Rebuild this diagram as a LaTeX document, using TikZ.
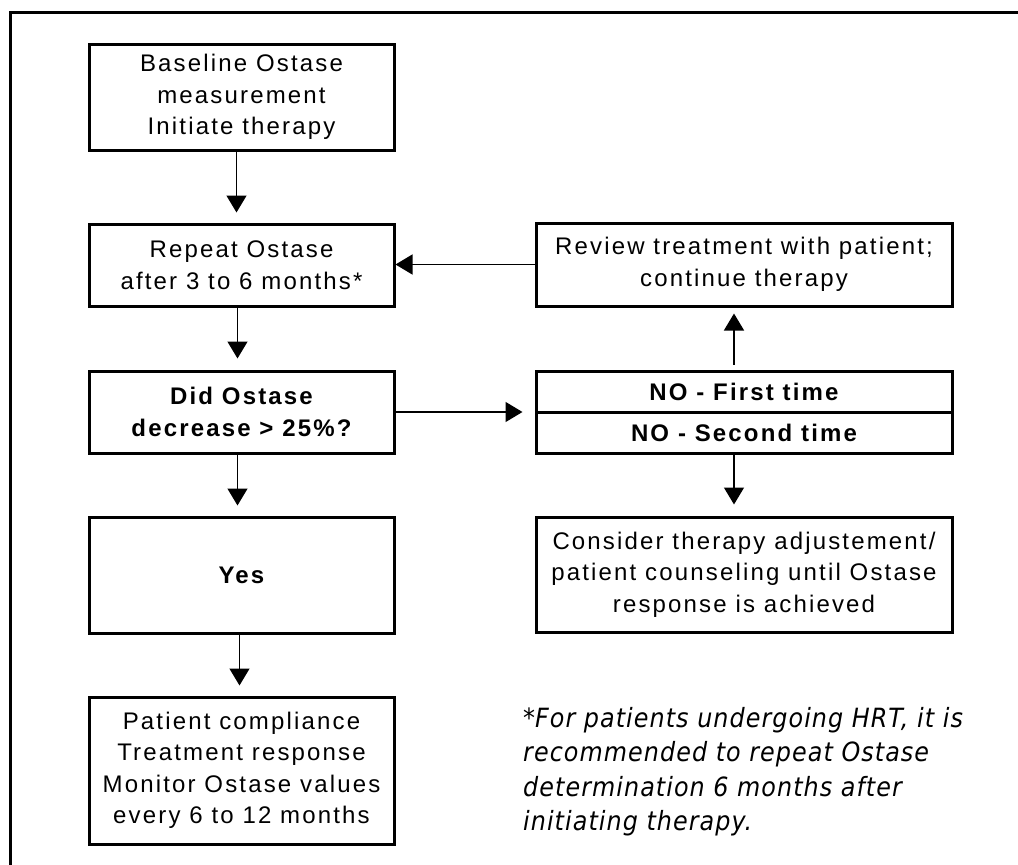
\documentclass[tikz,border=0pt]{standalone}
\usepackage{fontspec}
\setmainfont{Liberation Sans}[LetterSpace=9]
\newfontfamily\ostaseNoteFont{DejaVu Sans Condensed}[LetterSpace=4]
\usetikzlibrary{arrows.meta}

\tikzset{ostaseFlowBox/.style={
    font=\fontsize{24}{31.5}\selectfont,
    line width=3pt,
    draw=black,
    align=center,
    inner sep=0pt,
    minimum width=305pt,
  }
}
\tikzset{ostaseFlowWideBox/.style={
    ostaseFlowBox,
    minimum width=416pt,
  }
}
\tikzset{ostaseFlowBold/.style={
    font=\fontsize{24}{31.5}\selectfont\bfseries,
  }
}
\tikzset{ostaseFlowArrow/.style={
    -{Triangle[length=17pt,width=20pt]},
    line width=1.4pt,
    black,
  }
}
\newcommand{\ostaseFlowDrawNodes}{
  \node [ostaseFlowBox, minimum height=106pt] (baseline)
  at (241.5, 97) {Baseline Ostase\\measurement\\Initiate therapy};
  \node [ostaseFlowBox, minimum height=82pt] (repeat)
  at (241.5, 265) {Repeat Ostase\\after 3 to 6 months*};
  \node [ostaseFlowBox, ostaseFlowBold, minimum height=82pt] (decide)
  at (241.5, 412) {Did Ostase\\decrease > 25\%?};
  \node [ostaseFlowBox, ostaseFlowBold, minimum height=116pt] (yes)
  at (241.5, 575) {Yes};
  \node [ostaseFlowBox, minimum height=147pt] (monitor)
  at (241.5, 770.5) {Patient compliance\\Treatment response\\Monitor Ostase values\\every 6 to 12 months};
  \node [ostaseFlowWideBox, minimum height=83pt] (review)
  at (744, 264.5) {Review treatment with patient;\\continue therapy};
  \node [ostaseFlowWideBox, ostaseFlowBold, minimum height=41pt] (nofirst)
  at (744, 391.5) {NO - First time};
  \node [ostaseFlowWideBox, ostaseFlowBold, minimum height=41pt] (nosecond)
  at (744, 432.5) {NO - Second time};
  \node [ostaseFlowWideBox, minimum height=115pt] (consider)
  at (744, 574.5) {Consider therapy adjustement/\\patient counseling until Ostase\\response is achieved};
}
\newcommand{\ostaseFlowConnectNodes}{
  \draw[ostaseFlowArrow, shorten >=10pt] ([xshift=-5pt]baseline.south) to ([xshift=-5pt]repeat.north);
  \draw[ostaseFlowArrow, shorten >=11pt] ([xshift=-4pt]repeat.south) to ([xshift=-4pt]decide.north);
  \draw[ostaseFlowArrow, shorten >=10pt] ([xshift=-4pt]decide.south) to ([xshift=-4pt]yes.north);
  \draw[ostaseFlowArrow, shorten >=10pt] ([xshift=-2pt]yes.south) to ([xshift=-2pt]monitor.north);
  \draw[ostaseFlowArrow] (review.west) to (review.west -| repeat.east);
  \draw[ostaseFlowArrow, shorten >=12pt] (decide.east) to (decide.east -| nofirst.west);
  \draw[ostaseFlowArrow, shorten <=5pt, shorten >=6pt] ([xshift=-10pt]nofirst.north) to ([xshift=-10pt]review.south);
  \draw[ostaseFlowArrow, shorten >=11pt] ([xshift=-10pt]nosecond.south) to ([xshift=-10pt]consider.north);
}

\begin{document}
\begin{tikzpicture}[x=1pt, y=-1pt]
  \useasboundingbox (0,0) rectangle (1018,865);
  % frame, cut off on the right and at the bottom
  \draw[line width=3pt] (10,865) -- (10,12) -- (1018,12);

  \ostaseFlowDrawNodes
  \ostaseFlowConnectNodes

  \node [anchor=north west, inner sep=0pt, align=left,
    font=\ostaseNoteFont\fontsize{26.5}{34.5}\selectfont\itshape] (note)
  at (523, 707) {{\upshape *}For patients undergoing HRT, it is\\recommended to repeat Ostase\\determination 6 months after\\initiating therapy.};
\end{tikzpicture}
\end{document}
